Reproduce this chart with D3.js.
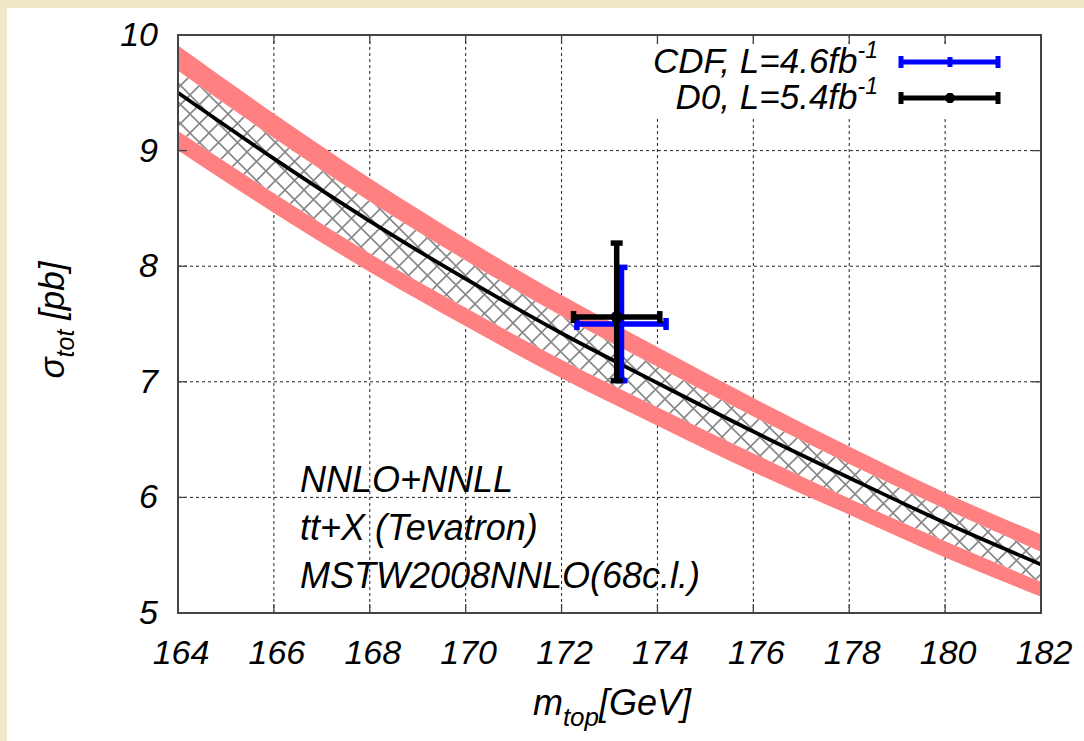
<!DOCTYPE html>
<html><head><meta charset="utf-8">
<script src="https://cdn.jsdelivr.net/npm/d3@7"></script>
<style>body{margin:0;background:#f1e8c8}svg{display:block}text{font-family:"Liberation Sans",Arial,sans-serif;font-style:italic;fill:#000}</style>
</head><body><svg id="c" width="1084" height="741"></svg>
<script>
// ---- data ----
const mass     = [164, 166, 168, 170, 172, 174, 176, 178, 180, 182];
const central  = [9.50, 8.93, 8.39, 7.89, 7.42, 6.99, 6.57, 6.17, 5.78, 5.42];
const outerUp  = [9.91, 9.32, 8.76, 8.24, 7.75, 7.30, 6.86, 6.44, 6.04, 5.68];
const innerUp  = [9.69, 9.11, 8.56, 8.05, 7.57, 7.13, 6.70, 6.29, 5.90, 5.53];
const innerLo  = [9.17, 8.63, 8.11, 7.64, 7.19, 6.78, 6.38, 5.99, 5.62, 5.27];
const outerLo  = [9.00, 8.46, 7.95, 7.48, 7.03, 6.62, 6.22, 5.85, 5.48, 5.14];
const xTicks   = [164, 166, 168, 170, 172, 174, 176, 178, 180, 182];
const yTicks   = [5, 6, 7, 8, 9, 10];
const expNames = ["CDF, L=4.6fb", "D0, L=5.4fb"];
const expMass  = [173.25, 173.15];
const expMassErr = [0.93, 0.90];
const expSigma = [7.50, 7.56];
const expErrUp = [0.49, 0.64];
const expErrDn = [0.49, 0.55];
const expColor = ["#0000ff", "#000000"];
const noteLines = ["NNLO+NNLL", "tt+X (Tevatron)", "MSTW2008NNLO(68c.l.)"];

// ---- layout ----
const svg = d3.select("#c");
const L = 178, R = 1041, T = 35, B = 613;
const x = d3.scaleLinear().domain([164, 182]).range([L, R]);
const y = d3.scaleLinear().domain([5, 10]).range([B, T]);

svg.append("rect").attr("width",1084).attr("height",741).attr("fill","#f1e8c8");
svg.append("rect").attr("x",7).attr("y",8).attr("width",1077).attr("height",733).attr("fill","#fff");

const defs = svg.append("defs");
const P = 19;
const pat = defs.append("pattern").attr("id","hatch").attr("patternUnits","userSpaceOnUse")
  .attr("width",P).attr("height",P);
pat.append("rect").attr("width",P).attr("height",P).attr("fill","#fff");
pat.append("path").attr("d",`M-2,-2L${P+2},${P+2}M-2,${P+2}L${P+2},-2`).attr("stroke","#888").attr("stroke-width",1.6);
defs.append("clipPath").attr("id","clip").append("rect").attr("x",L).attr("y",T).attr("width",R-L).attr("height",B-T);

// grid
const grid = svg.append("g").attr("stroke","#222").attr("stroke-width",1).attr("stroke-dasharray","3,3");
xTicks.slice(1,-1).forEach(v=>grid.append("line").attr("x1",x(v)).attr("x2",x(v)).attr("y1",T).attr("y2",B));
yTicks.slice(1,-1).forEach(v=>grid.append("line").attr("y1",y(v)).attr("y2",y(v)).attr("x1",L).attr("x2",R));

const idx = d3.range(mass.length);
const cv = d3.curveMonotoneX;
const band = (top, bot) => d3.area().curve(cv).x(i=>x(mass[i])).y0(i=>y(bot[i])).y1(i=>y(top[i]))(idx);
const plot = svg.append("g").attr("clip-path","url(#clip)");
plot.append("path").attr("d", band(innerUp, innerLo)).attr("fill","url(#hatch)");
plot.append("path").attr("d", band(outerUp, innerUp)).attr("fill","#ff8080");
plot.append("path").attr("d", band(innerLo, outerLo)).attr("fill","#ff8080");
plot.append("path").attr("d", d3.line().curve(cv).x(i=>x(mass[i])).y(i=>y(central[i]))(idx))
  .attr("fill","none").attr("stroke","#000").attr("stroke-width",3.8);

// ticks (inside, mirrored)
const tk = svg.append("g").attr("stroke","#444").attr("stroke-width",1.3);
xTicks.forEach(v=>{
  tk.append("line").attr("x1",x(v)).attr("x2",x(v)).attr("y1",B).attr("y2",B-9);
  tk.append("line").attr("x1",x(v)).attr("x2",x(v)).attr("y1",T).attr("y2",T+9);
});
yTicks.forEach(v=>{
  tk.append("line").attr("x1",L).attr("x2",L+9).attr("y1",y(v)).attr("y2",y(v));
  tk.append("line").attr("x1",R).attr("x2",R-9).attr("y1",y(v)).attr("y2",y(v));
});
svg.append("rect").attr("x",L).attr("y",T).attr("width",R-L).attr("height",B-T)
  .attr("fill","none").attr("stroke","#444").attr("stroke-width",2);

// tick labels
svg.append("g").selectAll("text").data(xTicks).join("text")
  .attr("x",d=>x(d)+3).attr("y",664).attr("text-anchor","middle").attr("font-size",34).text(d=>d);
svg.append("g").selectAll("text").data(yTicks).join("text")
  .attr("x",158).attr("y",d=>y(d)+11).attr("text-anchor","end").attr("font-size",34).text(d=>d);

// axis titles
const xt = svg.append("text").attr("x",612).attr("y",715).attr("text-anchor","middle").attr("font-size",36);
xt.append("tspan").text("m");
xt.append("tspan").attr("font-size",26).attr("dy",11).text("top");
xt.append("tspan").attr("dy",-11).text("[GeV]");
const yt = svg.append("text").attr("transform","translate(64,320) rotate(-90)").attr("text-anchor","middle").attr("font-size",35);
yt.append("tspan").text("σ");
yt.append("tspan").attr("font-size",25).attr("dy",10).text("tot");
yt.append("tspan").attr("dy",-10).text(" [pb]");

// error bars
function errbar(g, i, w){
  const c = expColor[i], cx = x(expMass[i]), cy = y(expSigma[i]);
  const xl = x(expMass[i]-expMassErr[i]), xr = x(expMass[i]+expMassErr[i]);
  const yu = y(expSigma[i]+expErrUp[i]), yd = y(expSigma[i]-expErrDn[i]);
  const gg = g.append("g").attr("stroke",c).attr("stroke-width",w);
  gg.append("line").attr("x1",xl).attr("x2",xr).attr("y1",cy).attr("y2",cy);
  gg.append("line").attr("x1",cx).attr("x2",cx).attr("y1",yu).attr("y2",yd);
  gg.append("line").attr("x1",xl).attr("x2",xl).attr("y1",cy-6).attr("y2",cy+6);
  gg.append("line").attr("x1",xr).attr("x2",xr).attr("y1",cy-6).attr("y2",cy+6);
  gg.append("line").attr("x1",cx-6).attr("x2",cx+6).attr("y1",yu).attr("y2",yu);
  gg.append("line").attr("x1",cx-6).attr("x2",cx+6).attr("y1",yd).attr("y2",yd);
  if (i===1) g.append("circle").attr("cx",cx).attr("cy",cy).attr("r",6).attr("fill",c);
}
const eb = svg.append("g");
errbar(eb, 0, 5.5); errbar(eb, 1, 5.5);

// legend
const lg = svg.append("g");
lg.append("rect").attr("x",632).attr("y",44).attr("width",403).attr("height",72).attr("fill","#fff");
expNames.forEach((n,i)=>{
  const ly = 62 + i*36;
  const t = lg.append("text").attr("x",878).attr("y",ly+11).attr("text-anchor","end").attr("font-size",35);
  t.append("tspan").text(n);
  t.append("tspan").attr("font-size",23).attr("dy",-15).text("-1");
  const g = lg.append("g").attr("stroke",expColor[i]).attr("stroke-width",5);
  g.append("line").attr("x1",901).attr("x2",998).attr("y1",ly).attr("y2",ly);
  g.append("line").attr("x1",901).attr("x2",901).attr("y1",ly-6).attr("y2",ly+6);
  g.append("line").attr("x1",998).attr("x2",998).attr("y1",ly-6).attr("y2",ly+6);
  g.append("line").attr("x1",950).attr("x2",950).attr("y1",ly-5).attr("y2",ly+5);
  if (i===1) lg.append("circle").attr("cx",950).attr("cy",ly).attr("r",5).attr("fill",expColor[i]);
});

// note text
svg.append("g").selectAll("text").data(noteLines).join("text")
  .attr("x",300).attr("y",(d,i)=>492+i*48).attr("font-size",36).text(d=>d);
</script></body></html>
